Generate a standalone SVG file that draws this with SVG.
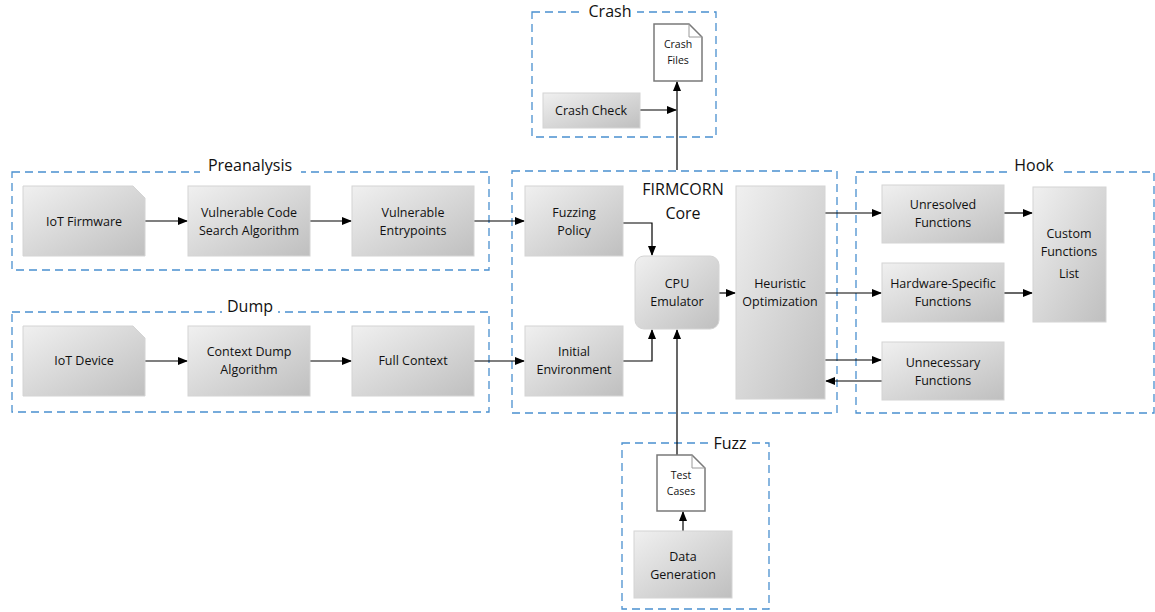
<svg xmlns="http://www.w3.org/2000/svg" width="1155" height="612" viewBox="0 0 1155 612">
<style>
.grp{fill:none;stroke:#4a90cf;stroke-width:1.3;stroke-dasharray:8,5}
.ttl{font-family:"Open Sans","Liberation Sans",sans-serif;font-size:16px;fill:#111;text-anchor:middle}
.box{fill:url(#g);stroke:#d4d4d4;stroke-width:1}
.doc{fill:#fff;stroke:#7a7a7a;stroke-width:1.5}
.t{font-family:"Open Sans","Liberation Sans",sans-serif;font-size:12.5px;fill:#111;text-anchor:middle}
.ts{font-family:"Open Sans","Liberation Sans",sans-serif;font-size:10.5px;fill:#111;text-anchor:middle}
.c{fill:none;stroke:#000;stroke-width:1.2;marker-end:url(#a)}
.cl{fill:none;stroke:#000;stroke-width:1.2}
</style>
<defs>
<linearGradient id="g" x1="0" y1="0" x2="1" y2="1">
<stop offset="0" stop-color="#f0f0f0"/>
<stop offset="1" stop-color="#bfbfbf"/>
</linearGradient>
<marker id="a" markerWidth="10" markerHeight="8" refX="9" refY="4" orient="auto" markerUnits="userSpaceOnUse">
<path d="M0,0 L10,4 L0,8 z" fill="#000"/>
</marker>
</defs>
<rect width="1155" height="612" fill="#fff"/>

<g id="containers">
<rect class="grp" x="532" y="12" width="184" height="125"/>
<rect x="583" y="0" width="54" height="22" fill="#fff"/>
<text class="ttl" x="610" y="17">Crash</text>
<rect class="grp" x="12" y="172" width="477" height="98"/>
<rect x="200" y="155" width="101" height="22" fill="#fff"/>
<text class="ttl" x="250" y="171">Preanalysis</text>
<rect class="grp" x="12" y="312" width="477" height="100"/>
<rect x="222" y="296" width="56" height="22" fill="#fff"/>
<text class="ttl" x="250" y="312">Dump</text>
<rect class="grp" x="512" y="171" width="325" height="242"/>
<rect class="grp" x="856" y="172" width="298" height="241"/>
<rect x="1008" y="155" width="52" height="22" fill="#fff"/>
<text class="ttl" x="1034" y="171">Hook</text>
<rect class="grp" x="622" y="443" width="147" height="166"/>
<rect x="710" y="432" width="40" height="20" fill="#fff"/>
<text class="ttl" x="730" y="449">Fuzz</text>
</g>

<g id="connectors">
<path class="c" d="M640,110 L676,110"/>
<path class="c" d="M677,170 L677,82"/>
<path class="c" d="M145,221 L187,221"/>
<path class="c" d="M310,221 L351,221"/>
<path class="c" d="M474,221 L524,221"/>
<path class="c" d="M145,361 L187,361"/>
<path class="c" d="M310,361 L351,361"/>
<path class="c" d="M474,361 L524,361"/>
<path class="c" d="M623,223 L652,223 L652,255"/>
<path class="c" d="M623,361 L652,361 L652,330"/>
<path class="c" d="M677,455 L677,330"/>
<path class="c" d="M719,293 L735,293"/>
<path class="c" d="M825,213 L881,213"/>
<path class="c" d="M825,293 L881,293"/>
<path class="c" d="M825,360 L881,360"/>
<path class="c" d="M882,381 L826,381"/>
<path class="c" d="M1004,213 L1032,213"/>
<path class="c" d="M1004,293 L1032,293"/>
<path class="c" d="M683,531 L683,512"/>
</g>

<g id="crash-files">
<path class="doc" d="M654,24 L689,24 L702,37 L702,81 L654,81 Z"/>
<path d="M689,24 L689,37 L702,37" fill="none" stroke="#9a9a9a" stroke-width="1"/>
<text class="ts" x="678" y="48">Crash</text>
<text class="ts" x="678" y="64">Files</text>
</g>
<g id="crash-check">
<rect class="box" x="543" y="93" width="97" height="35"/>
<text class="t" x="591" y="115">Crash Check</text>
</g>

<g id="iot-firmware">
<path class="box" d="M23,186 L133,186 L145,198 L145,256 L23,256 Z"/>
<text class="t" x="84" y="226">IoT Firmware</text>
</g>
<g id="vuln-code-search">
<rect class="box" x="188" y="186" width="122" height="70"/>
<text class="t" x="249" y="217">Vulnerable Code</text>
<text class="t" x="249" y="235">Search Algorithm</text>
</g>
<g id="vuln-entrypoints">
<rect class="box" x="352" y="186" width="122" height="70"/>
<text class="t" x="413" y="217">Vulnerable</text>
<text class="t" x="413" y="235">Entrypoints</text>
</g>

<g id="iot-device">
<path class="box" d="M23,326 L133,326 L145,338 L145,396 L23,396 Z"/>
<text class="t" x="84" y="365">IoT Device</text>
</g>
<g id="context-dump">
<rect class="box" x="188" y="326" width="122" height="70"/>
<text class="t" x="249" y="356">Context Dump</text>
<text class="t" x="249" y="374">Algorithm</text>
</g>
<g id="full-context">
<rect class="box" x="352" y="326" width="122" height="70"/>
<text class="t" x="413" y="365">Full Context</text>
</g>

<g id="core-title">
<text class="ttl" x="683" y="195">FIRMCORN</text>
<text class="ttl" x="683" y="219">Core</text>
</g>
<g id="fuzzing-policy">
<rect class="box" x="525" y="186" width="98" height="70"/>
<text class="t" x="574" y="217">Fuzzing</text>
<text class="t" x="574" y="235">Policy</text>
</g>
<g id="initial-env">
<rect class="box" x="525" y="326" width="98" height="70"/>
<text class="t" x="574" y="356">Initial</text>
<text class="t" x="574" y="374">Environment</text>
</g>
<g id="cpu-emulator">
<rect class="box" x="635" y="256" width="84" height="73" rx="9"/>
<text class="t" x="677" y="288">CPU</text>
<text class="t" x="677" y="306">Emulator</text>
</g>
<g id="heuristic">
<rect class="box" x="736" y="186" width="89" height="213"/>
<text class="t" x="780" y="288">Heuristic</text>
<text class="t" x="780" y="306">Optimization</text>
</g>

<g id="unresolved">
<rect class="box" x="882" y="185" width="122" height="58"/>
<text class="t" x="943" y="209">Unresolved</text>
<text class="t" x="943" y="227">Functions</text>
</g>
<g id="hardware-specific">
<rect class="box" x="882" y="263" width="122" height="59"/>
<text class="t" x="943" y="288">Hardware-Specific</text>
<text class="t" x="943" y="306">Functions</text>
</g>
<g id="unnecessary">
<rect class="box" x="882" y="342" width="122" height="58"/>
<text class="t" x="943" y="367">Unnecessary</text>
<text class="t" x="943" y="385">Functions</text>
</g>
<g id="custom-functions">
<rect class="box" x="1033" y="187" width="73" height="135"/>
<text class="t" x="1069" y="238">Custom</text>
<text class="t" x="1069" y="256">Functions</text>
<text class="t" x="1069" y="278">List</text>
</g>

<g id="test-cases">
<path class="doc" d="M657,455 L692,455 L705,468 L705,511 L657,511 Z"/>
<path d="M692,455 L692,468 L705,468" fill="none" stroke="#9a9a9a" stroke-width="1"/>
<text class="ts" x="681" y="479">Test</text>
<text class="ts" x="681" y="495">Cases</text>
</g>
<g id="data-generation">
<rect class="box" x="634" y="531" width="98" height="67"/>
<text class="t" x="683" y="561">Data</text>
<text class="t" x="683" y="579">Generation</text>
</g>
</svg>
